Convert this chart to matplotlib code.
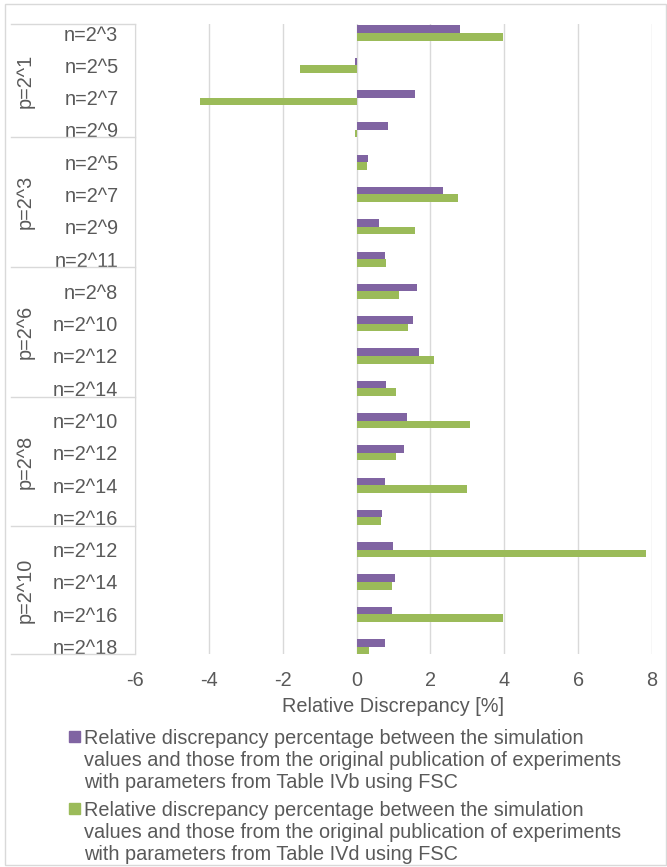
import matplotlib.pyplot as plt
from matplotlib.patches import Rectangle
from matplotlib.transforms import blended_transform_factory

# category labels (inner level) and groups (outer level)
groups = ["p=2^1", "p=2^3", "p=2^6", "p=2^8", "p=2^10"]
categories = ["n=2^3", "n=2^5", "n=2^7", "n=2^9",
              "n=2^5", "n=2^7", "n=2^9", "n=2^11",
              "n=2^8", "n=2^10", "n=2^12", "n=2^14",
              "n=2^10", "n=2^12", "n=2^14", "n=2^16",
              "n=2^12", "n=2^14", "n=2^16", "n=2^18"]

# relative discrepancy [%]
ivb = [2.81, -0.05, 1.57, 0.86,
       0.32, 2.34, 0.62, 0.76,
       1.64, 1.54, 1.70, 0.79,
       1.37, 1.29, 0.76, 0.69,
       0.99, 1.03, 0.96, 0.76]
ivd = [3.96, -1.53, -4.23, -0.04,
       0.29, 2.75, 1.57, 0.80,
       1.16, 1.40, 2.11, 1.06,
       3.06, 1.06, 2.98, 0.65,
       7.85, 0.96, 3.96, 0.34]

legend_labels = [
    "Relative discrepancy percentage between the simulation\n"
    "values and those from the original publication of experiments\n"
    "with parameters from Table IVb using FSC",
    "Relative discrepancy percentage between the simulation\n"
    "values and those from the original publication of experiments\n"
    "with parameters from Table IVd using FSC",
]

PURPLE = "#8064A2"
GREEN = "#9BBB59"
TXT = "#595959"
GRID = "#d9d9d9"
FS = 14.3

plt.rcParams["font.family"] = ["Liberation Sans", "DejaVu Sans"]

W, H = 667, 867
fig = plt.figure(figsize=(W / 100, H / 100), dpi=100)

# chart area border
fig.patches.append(Rectangle((5 / W, 1 - 865 / H), 661 / W, 861 / H,
                             transform=fig.transFigure, fill=False,
                             edgecolor=GRID, lw=1))

ax = fig.add_axes([135 / W, 1 - 654 / H, 517 / W, 630 / H])

idx = list(range(len(categories)))
bh = 0.234
ax.barh([i - bh / 2 for i in idx], ivb, height=bh, color=PURPLE)
ax.barh([i + bh / 2 for i in idx], ivd, height=bh, color=GREEN)

ax.set_xlim(-6, 8)
ax.set_ylim(19.23, -0.28)
ax.set_xticks(range(-6, 9, 2))
ax.set_xticklabels([str(v) for v in range(-6, 9, 2)])
ax.tick_params(axis="x", length=0, pad=12, labelsize=FS, labelcolor=TXT)
ax.set_yticks(idx)
ax.set_yticklabels(categories)
ax.tick_params(axis="y", length=0, pad=12, labelsize=FS, labelcolor=TXT)
ax.set_xlabel("Relative Discrepancy [%]", fontsize=FS, color=TXT, labelpad=5)

for s in ["top", "right", "bottom"]:
    ax.spines[s].set_visible(False)
ax.spines["left"].set_color(GRID)
ax.grid(axis="x", color=GRID, lw=1)
ax.set_axisbelow(True)

# outer level of the category axis
tr = blended_transform_factory(ax.transAxes, ax.transData)
bounds = [-0.28, 3.22, 7.24, 11.26, 15.27, 19.23]
x_left = (11 - 135) / 517
for b in bounds:
    ax.plot([x_left, 0], [b, b], color=GRID, lw=1, transform=tr, clip_on=False)
for g, name in enumerate(groups):
    yc = (bounds[g] + bounds[g + 1]) / 2
    ax.text((25 - 135) / 517, yc, name, transform=tr, rotation=90,
            ha="center", va="center", fontsize=FS, color=TXT)

# legend
for k, (lab, col) in enumerate(zip(legend_labels, [PURPLE, GREEN])):
    top = [729, 801][k]
    fig.patches.append(Rectangle((69 / W, 1 - (top + 13) / H), 11 / W, 11 / H,
                                 transform=fig.transFigure, color=col))
    fig.text(84 / W, 1 - top / H, lab, ha="left", va="top", fontsize=FS,
             color=TXT, linespacing=1.2)

fig.savefig("out.png", dpi=100)
